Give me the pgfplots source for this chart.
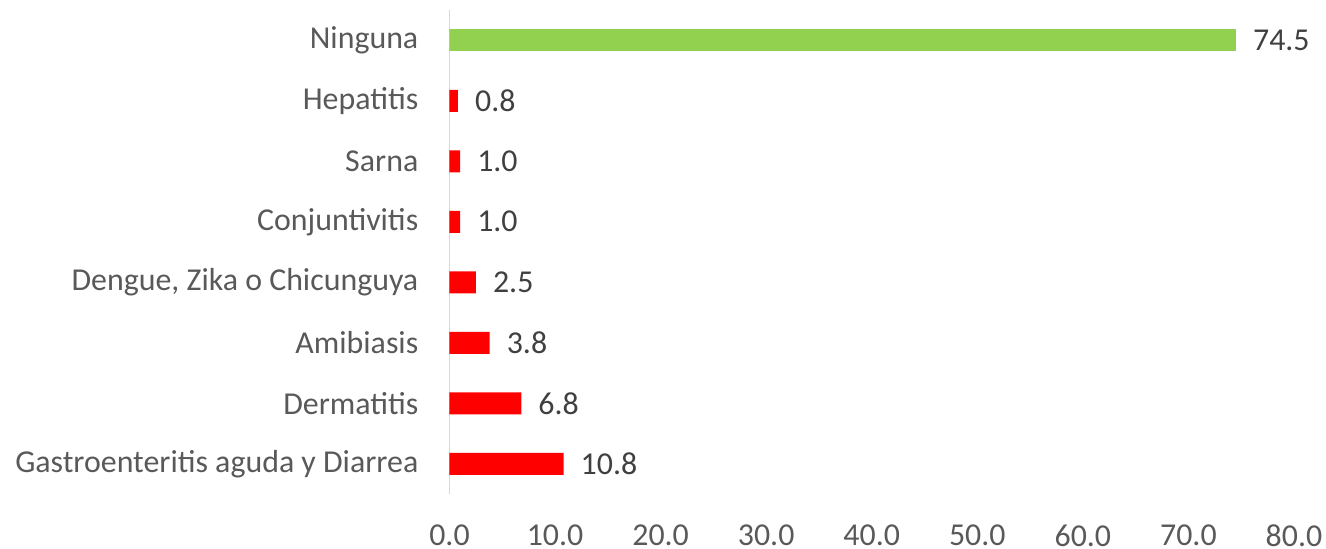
\documentclass[border=0pt]{standalone}
\usepackage{fontspec}
\setmainfont{Carlito}
\usepackage{pgfplots}
\pgfplotsset{compat=1.18}
\definecolor{barred}{HTML}{FF0000}
\definecolor{bargreen}{HTML}{92D050}
\definecolor{labgray}{HTML}{595959}
\definecolor{valgray}{HTML}{404040}
\definecolor{axgray}{HTML}{D9D9D9}
\begin{document}
\begin{tikzpicture}
\useasboundingbox (-449.5bp,-55bp) rectangle (876.5bp,494bp);
\begin{axis}[
  at={(0,0)}, anchor=south west,
  scale only axis, width=844.5bp, height=484bp,
  xbar, bar width=22bp, bar shift=0pt,
  xmin=0, xmax=80, ymin=-0.5, ymax=7.5,
  xtick={0,10,...,80},
  ytick={0,...,7},
  yticklabels={Gastroenteritis aguda y Diarrea, Dermatitis, Amibiasis, {Dengue, Zika o Chicunguya}, Conjuntivitis, Sarna, Hepatitis, Ninguna},
  /pgf/number format/fixed, /pgf/number format/fixed zerofill,
  /pgf/number format/precision=1, /pgf/number format/assume math mode=true,
  axis x line*=bottom, x axis line style={draw=none},
  axis y line*=left, y axis line style={-, draw=axgray, line width=1.5bp},
  tick style={draw=none}, major tick length=0pt,
  xticklabel style={font=\fontsize{32}{36}\selectfont, text=labgray, anchor=north, inner sep=0pt, yshift=-31bp},
  yticklabel style={font=\fontsize{32}{36}\selectfont, text=labgray, anchor=east, inner sep=0pt, xshift=-31bp},
  point meta=x,
  nodes near coords,
  nodes near coords style={font=\fontsize{32}{36}\selectfont, text=valgray, anchor=west, inner sep=0pt, xshift=17bp},
]
\addplot[fill=barred, draw=none] coordinates {(10.8,0) (6.8,1) (3.8,2) (2.5,3) (1.0,4) (1.0,5) (0.8,6)};
\addplot[fill=bargreen, draw=none] coordinates {(74.5,7)};
\end{axis}
\end{tikzpicture}
\end{document}
